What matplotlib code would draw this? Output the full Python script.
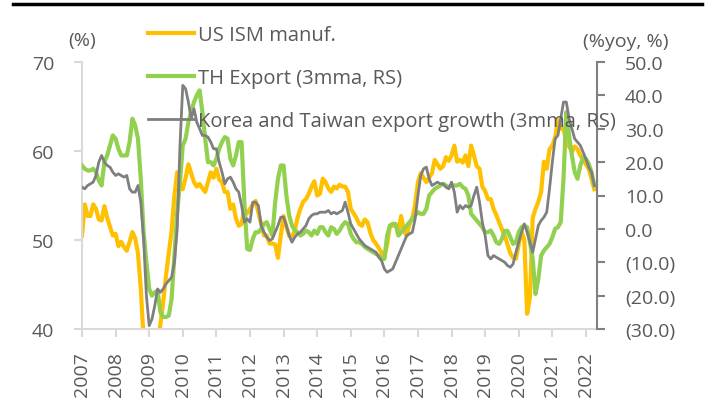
import numpy as np
import matplotlib
matplotlib.use("Agg")
import matplotlib.pyplot as plt
from matplotlib.lines import Line2D
from matplotlib.ticker import FuncFormatter

# ---------------- data (monthly, Jan 2007 - Apr 2022) ----------------
start_year = 2007

ism = [
    50.5, 54, 52.7, 52.7, 54, 53.5, 52.3, 52.2, 53.8, 52.5, 51.5, 50.5,      # 2007
    50.7, 49.3, 49.8, 49.2, 48.8, 49.8, 50.9, 50.2, 48.5, 44.5, 38.9, 36.2,  # 2008
    33, 35.6, 35.8, 38.5, 40.5, 43, 46, 48.5, 51, 55, 57.6, 56.3,            # 2009
    55.7, 57, 58.5, 57.5, 56.5, 56, 56.3, 55.8, 55.4, 56.5, 57.6, 57,        # 2010
    58, 56.8, 56.5, 55.4, 55.4, 53.5, 54, 52.4, 51.6, 51.8, 53.5, 53,        # 2011
    53.5, 54, 54.4, 53.1, 51.8, 50.5, 50.5, 49.6, 49.6, 49.5, 48, 50.5,      # 2012
    52.7, 51.5, 50.5, 50.4, 51, 52.5, 53.5, 54.3, 54.6, 55.2, 56, 56.6,      # 2013
    55, 55.2, 56.9, 56.5, 55.8, 55.4, 56, 55.8, 56.2, 56, 56, 55.4,          # 2014
    53.5, 53, 52.5, 51.8, 51.6, 52.3, 52, 50.8, 50, 49.6, 49.1, 48.6,        # 2015
    48, 49.5, 51.6, 51.6, 51.7, 51, 52.7, 51, 50.5, 51.8, 52.5, 54,          # 2016
    56.5, 57.5, 57, 56.5, 57, 57.5, 59, 58.5, 58, 58.3, 59.3, 58.9,          # 2017
    59.5, 60.6, 58.8, 59, 58.7, 59.5, 58.3, 60.6, 59.5, 58.3, 58, 56,        # 2018
    55.5, 54.6, 54.6, 53.5, 52.8, 52, 51.2, 50.5, 49.5, 48.5, 48, 47.9,      # 2019
    49.5, 51, 50, 41.7, 43.5, 52.5, 53.5, 54.3, 55.4, 58.8, 58, 60.2,        # 2020
    60.6, 61.5, 63.5, 62.5, 62.5, 61, 60.5, 59.9, 60.5, 60.2, 59.5, 59,      # 2021
    58.5, 58, 56.9, 55.7,                                                    # 2022
]

th_export = [
    19, 18, 17.5, 17.5, 18, 17, 14.5, 13, 20, 22, 25, 28,                    # 2007
    27, 24, 22, 22, 22, 26, 33, 31, 27, 15, -1, -10,                         # 2008
    -18, -20, -19, -18.5, -25, -26.4, -26.4, -26, -21, -8, 5, 14,            # 2009
    25, 27, 32, 35, 38, 40, 41.5, 35, 27, 20, 20, 19,                        # 2010
    21, 24, 26, 27.5, 27, 21, 19, 22, 26, 26, 8, -6,                         # 2011
    -6.3, -3, -1, -1, 0, 1.5, 2, 0, -2, 8, 15, 19,                           # 2012
    19, 10, 4, 1, -0.5, -1, -2, -1.5, -0.5, -1, -2, -0.5,                    # 2013
    -1.5, 0.5, 0.5, -1, -2, 0.5, 0, -1.5, -0.5, 1, 2, 1.5,                   # 2014
    -1.5, -3, -4, -4, -4.5, -5.4, -6, -6.5, -7, -7.5, -8, -9,                # 2015
    -9, -2, 1, 1.5, 1.5, -2, -1, 0, 1, 2, 3, 4,                              # 2016
    5, 4.5, 4.5, 6, 10, 11, 12, 12.5, 13, 13.5, 13, 12.5,                    # 2017
    13, 13, 13, 13.5, 12.5, 12, 10, 4.5, 3.5, 2.5, 1.5, 0.5,                 # 2018
    -1, -1, -0.5, -2, -4, -4.5, -3, -0.6, -0.6, -2.5, -4.5, -4,              # 2019
    -1, 0.5, 1, 0.5, -4, -9, -19.5, -15, -8, -6.5, -5.5, -4.5,               # 2020
    -2.5, 0, 0.5, 2, 15, 35, 28, 22, 17, 15, 19, 21.5,                       # 2021
    21, 19.5, 17, 13,                                                        # 2022
]

kr_tw_export = [
    12.5, 12, 13, 13.5, 14, 16, 20, 22, 20, 19, 18.5, 17,                    # 2007
    16, 16.5, 16, 15.5, 16, 12, 11, 11, 13, 8, -3, -20,                      # 2008
    -29, -27, -23, -18, -19, -18, -16.5, -15.5, -14.5, -10, 0, 25,           # 2009
    43, 42, 38, 33, 36, 32, 30, 28, 28, 27.5, 26, 24,                        # 2010
    24, 20, 17, 13.5, 15, 15.5, 14, 12, 11, 7, 2, 3,                         # 2011
    2, 8, 8, 7, 1, -1, -2.5, -3.5, -3, -1, 1, 3.5,                           # 2012
    3.5, 1, -2, -4, -2.5, -1.5, -1, 0, 1, 3, 4, 4.5,                         # 2013
    4.5, 5, 5, 5, 5.5, 4.5, 5, 4.5, 5, 5.5, 8, 5,                            # 2014
    1.5, 0, -1.5, -3, -4, -5, -5.5, -6, -6.5, -7, -8.5, -9.5,                # 2015
    -12, -13, -12.5, -12, -10, -8, -6, -4, -2, -1.5, -1, 3,                  # 2016
    10, 16, 18, 18.5, 15, 13, 13.5, 14, 13.5, 13.5, 12.5, 12,                # 2017
    14, 11, 5, 7, 6, 7, 6.5, 7, 10, 12.5, 8, 2,                              # 2018
    -2, -8, -9, -8, -8.5, -9, -9.5, -10, -11, -11.5, -10.5, -7,              # 2019
    -4, -1, 1.5, -1, -4, -7, -3, 1, 2.5, 3.5, 5, 12,                         # 2020
    20, 27, 28, 33, 38, 38, 33, 30, 27, 26, 25, 23,                          # 2021
    21, 18.5, 17, 13,                                                        # 2022
]

year_ticks = list(range(2007, 2023))
left_ticks = [40, 50, 60, 70]
right_ticks = [-30, -20, -10, 0, 10, 20, 30, 40, 50]
series_labels = ["US ISM manuf.", "TH Export (3mma, RS)",
                 "Korea and Taiwan export growth (3mma, RS)"]

# ---------------- style ----------------
plt.rcParams['font.family'] = ['Open Sans', 'DejaVu Sans']
ORANGE = '#FFC000'
GREEN = '#92D050'
GREY = '#7F7F7F'
TXT = '#595959'
LIGHT = '#D9D9D9'
FS = 14
LFS = 14.5

W, H = 710, 410
fig = plt.figure(figsize=(W / 100, H / 100), dpi=100)
ax = fig.add_axes([82 / W, 1 - 330 / H, (597 - 82) / W, (330 - 63) / H])
ax2 = ax.twinx()

x = start_year + np.arange(len(ism)) / 12.0

l1, = ax.plot(x, ism, color=ORANGE, lw=3.0, solid_joinstyle='round')
l2, = ax2.plot(x, th_export, color=GREEN, lw=3.0, solid_joinstyle='round')
l3, = ax2.plot(x, kr_tw_export, color=GREY, lw=2.0, solid_joinstyle='round')

ax.set_xlim(2007, 2022.33)
ax.set_ylim(40, 70)
ax2.set_ylim(-30, 50)

ax.set_xticks(year_ticks)
ax.set_xticklabels([str(y) for y in year_ticks], rotation=90)
ax.set_yticks(left_ticks)
ax2.set_yticks(right_ticks)
ax2.yaxis.set_major_formatter(FuncFormatter(
    lambda v, p: f"({abs(v):.1f})" if v < 0 else f"{v:.1f}"))

for a in (ax, ax2):
    a.patch.set_visible(False)
    a.spines['top'].set_visible(False)

ax.spines['right'].set_visible(False)
ax.spines['left'].set_color(LIGHT)
ax.spines['bottom'].set_color(LIGHT)
ax.spines['left'].set_linewidth(1.5)
ax.spines['bottom'].set_linewidth(1.5)
ax2.spines['left'].set_visible(False)
ax2.spines['bottom'].set_visible(False)
ax2.spines['right'].set_color('#808080')
ax2.spines['right'].set_linewidth(1.5)

ax.tick_params(axis='y', colors=LIGHT, labelcolor=TXT, labelsize=FS,
               length=6, width=1.5, pad=14)
ax.tick_params(axis='x', colors=LIGHT, labelcolor=TXT, labelsize=FS,
               length=6, width=1.5, pad=10)
ax2.tick_params(axis='y', colors='#808080', labelcolor=TXT, labelsize=FS,
                length=6, width=1.5, pad=14)

fig.text(82 / W, 1 - 41 / H, "(%)", ha='center', va='center',
         fontsize=FS, color=TXT)
fig.text(626 / W, 1 - 42 / H, "(%yoy, %)", ha='center', va='center',
         fontsize=FS, color=TXT)

fig.add_artist(Line2D([13 / W, 702 / W], [1 - 5 / H, 1 - 5 / H],
                      color='black', lw=2.5))

leg = ax2.legend([l1, l2, l3], series_labels, loc='upper left',
                 bbox_to_anchor=(148 / W, 1 - 26 / H),
                 bbox_transform=fig.transFigure, frameon=False,
                 fontsize=LFS, labelcolor=TXT, handlelength=2.3,
                 handletextpad=0.2, labelspacing=1.15, borderpad=0,
                 borderaxespad=0)

fig.savefig('out.png', dpi=100)
